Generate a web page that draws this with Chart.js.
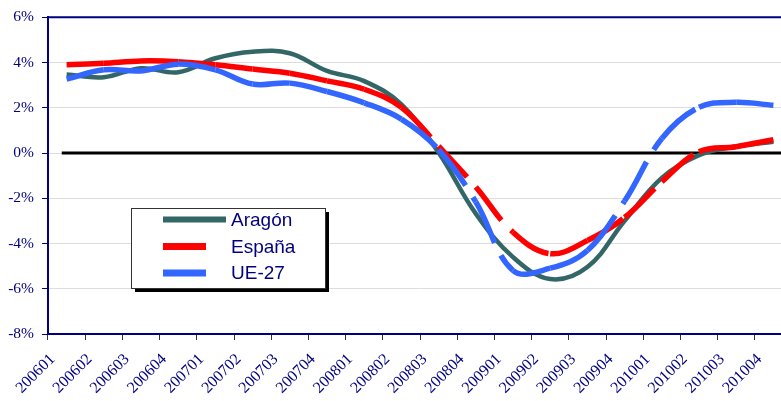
<!DOCTYPE html>
<html>
<head>
<meta charset="utf-8">
<script src="https://cdn.jsdelivr.net/npm/chart.js@4/dist/chart.umd.min.js"></script>
<style>
  html, body { margin: 0; padding: 0; background: #fff; overflow: hidden; }
  #wrap { width: 800px; height: 401px; }
</style>
</head>
<body>
<div id="wrap"><canvas id="c" width="800" height="401"></canvas></div>
<script>
// ---- data ----
const categories = ['200601','200602','200603','200604','200701','200702','200703','200704',
  '200801','200802','200803','200804','200901','200902','200903','200904',
  '201001','201002','201003','201004'];
const aragon = [3.47, 3.35, 3.75, 3.57, 4.19, 4.48, 4.41, 3.63, 3.18, 2.15,
  0.02, -2.68, -4.60, -5.57, -5.04, -3.00, -1.10, -0.09, 0.29, 0.50];
const espana = [3.90, 3.97, 4.07, 4.04, 3.90, 3.71, 3.53, 3.19, 2.82, 2.02,
  0.30, -1.50, -3.50, -4.45, -3.87, -2.85, -1.27, 0.06, 0.28, 0.59];
const ue27 = [3.27, 3.68, 3.63, 3.93, 3.68, 3.05, 3.09, 2.72, 2.22, 1.50,
  0.15, -2.16, -5.19, -5.09, -4.31, -2.12, 0.64, 2.02, 2.24, 2.11];
const seriesNames = ['Aragón', 'España', 'UE-27'];
const yTicks = [-8, -6, -4, -2, 0, 2, 4, 6];

const NAVY = '#000080';
const restart = { borderDashOffset: ctx => (ctx.p0DataIndex % 2 ? 0.001 : 0) };

const framePlugin = {
  id: 'frame',
  beforeDatasetsDraw(chart) {
    const { ctx, chartArea: a, scales } = chart;
    const y0 = scales.y.getPixelForValue(0);
    const x0 = scales.x.getPixelForValue(0) - scales.x.width / categories.length * 0.13;
    ctx.save();
    ctx.strokeStyle = '#000';
    ctx.lineWidth = 3;
    ctx.beginPath();
    ctx.moveTo(x0, y0);
    ctx.lineTo(a.right, y0);
    ctx.stroke();
    ctx.restore();
  },
  afterDraw(chart) {
    const { ctx, chartArea: a } = chart;
    ctx.save();
    // top border
    ctx.strokeStyle = NAVY;
    ctx.lineWidth = 2;
    ctx.beginPath();
    ctx.moveTo(a.left, a.top);
    ctx.lineTo(a.right, a.top);
    ctx.stroke();
    // legend box
    const bx = 131, by = 208, bw = 194, bh = 80;
    ctx.fillStyle = '#000';
    ctx.fillRect(bx + 4, by + 4, bw, bh);
    ctx.fillStyle = '#fff';
    ctx.fillRect(bx, by, bw, bh);
    ctx.strokeStyle = '#333';
    ctx.lineWidth = 1;
    ctx.strokeRect(bx + 0.5, by + 0.5, bw, bh);
    const ds = chart.data.datasets;
    const rows = [219.5, 246.5, 273];
    const sampleW = [63, 43, 43];
    const sampleH = [6, 7, 7];
    ctx.font = '19px "Liberation Sans", Arial, sans-serif';
    ctx.textBaseline = 'middle';
    ctx.textAlign = 'left';
    for (let i = 0; i < 3; i++) {
      ctx.fillStyle = ds[i].borderColor;
      ctx.fillRect(163, rows[i] - sampleH[i] / 2, sampleW[i], sampleH[i]);
      ctx.fillStyle = NAVY;
      ctx.fillText(ds[i].label, 231, rows[i] + 1);
    }
    ctx.restore();
  }
};

new Chart(document.getElementById('c'), {
  type: 'line',
  data: {
    labels: categories,
    datasets: [
      { label: seriesNames[0], data: aragon, borderColor: '#336666', borderWidth: 4.5, order: 3 },
      { label: seriesNames[1], data: espana, borderColor: '#FF0000', borderWidth: 5.5, borderDash: [42, 14], segment: restart, order: 2 },
      { label: seriesNames[2], data: ue27, borderColor: '#3366FF', borderWidth: 5.5, borderDash: [45, 14], segment: restart, order: 1 }
    ]
  },
  options: {
    responsive: false,
    animation: false,
    layout: { padding: { top: 16, right: 8, left: 0, bottom: 0 } },
    elements: {
      point: { radius: 0, hoverRadius: 0 },
      line: { tension: 0.38, fill: false, borderCapStyle: 'butt' }
    },
    plugins: { legend: { display: false }, tooltip: { enabled: false } },
    scales: {
      x: {
        offset: true,
        grid: { offset: true, drawOnChartArea: false, drawTicks: true, tickLength: 6, tickColor: '#333', color: '#333' },
        border: { display: true, color: NAVY, width: 2 },
        ticks: {
          autoSkip: false, maxRotation: 45, minRotation: 45,
          color: NAVY, padding: 10, labelOffset: -14,
          font: { family: '"Liberation Serif", "Times New Roman", serif', size: 16 }
        },
        afterFit(s) { s.height = 67; }
      },
      y: {
        min: yTicks[0], max: yTicks[yTicks.length - 1],
        afterBuildTicks(s) { s.ticks = yTicks.map(v => ({ value: v })); },
        grid: { color: '#DDDDDD', lineWidth: 1, tickLength: 6, tickColor: NAVY, drawTicks: true },
        border: { display: true, color: NAVY, width: 2 },
        ticks: {
          color: NAVY, padding: 8,
          font: { family: '"Liberation Serif", "Times New Roman", serif', size: 15.5 },
          callback: v => v + '%'
        },
        afterFit(s) { s.width = 48; }
      }
    }
  },
  plugins: [framePlugin]
});
</script>
</body>
</html>
